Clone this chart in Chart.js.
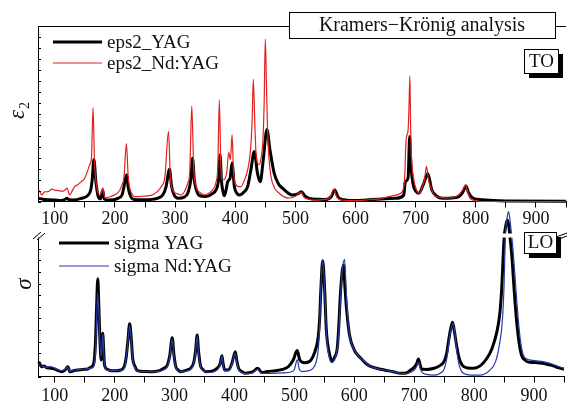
<!DOCTYPE html>
<html>
<head>
<meta charset="utf-8">
<script src="https://cdn.jsdelivr.net/npm/chart.js@4.4.0/dist/chart.umd.min.js"></script>
<style>
    html, body { margin: 0; padding: 0; background: #fff; }
    #wrap { position: relative; width: 567px; height: 404px; overflow: hidden; }
    #top { position: absolute; left: 0; top: 0; }
    #bottom { position: absolute; left: 0; top: 200px; }
</style>
</head>
<body>
<div id="wrap">
    <canvas id="top" width="567" height="228" style="width:567px;height:228px"></canvas>
    <canvas id="bottom" width="567" height="204" style="width:567px;height:204px"></canvas>
</div>
<script>
// wavenumber (cm-1), value
const eps2Yag = [[73,1.8],[80,1.3],[90,1.0],[100,0.8],[111,0.6],[117,1.2],[120,1.8],[124,1.0],[130,0.9],[144,1.8],
    [155,3.5],[160,7],[162,12],[165,24],[168,12],[172,3],[176,1.5],[179.6,6.6],[182,1.5],[190,0.8],
    [205,1.8],[212,4],[215,8.5],[219.4,15.2],[222,8],[226,3],[232,1.2],[250,1],[270,1.8],[280,4],
    [285,8.5],[290.7,18.4],[294,9],[298,4],[305,1.8],[315,2.5],[321,4.7],[326,12],[329,24.7],[332,12],
    [335,7],[340,3.5],[350,2.8],[362,4.5],[368,6.6],[372,12],[374.8,26.6],[377,12],[380,5],[382,3.3],
    [385,7],[387.4,11.3],[391.4,13.3],[394.7,21.9],[398.5,8.5],[402,5],[407,3.7],[415,5.5],[420.6,8.5],[426,18],
    [431.7,28.5],[437,16],[441.6,11.3],[446.6,23.8],[452.7,41],[457.7,29.5],[464.8,16],[472,10],[478.6,7.6],[495,3.7],
    [505,4.5],[510,5.6],[516,3],[523,1.8],[540,1.3],[551,1.2],[560,3],[565.5,6.6],[571,2.5],[580,1],
    [600,0.5],[622,1],[666,1.8],[680,3.5],[683,11.3],[687.5,13.7],[690,37],[692,21.9],[695.4,10.4],[700,6],
    [705.3,4.7],[713.6,10.4],[720,16],[727,6.6],[735,3],[745,1.8],[760,2],[771.6,2.8],[778,5],[783.7,8.9],
    [788,5],[795,2],[810,1],[850,0.3],[950,0.2]];

const eps2Nd = [[73,6.6],[76,5],[78,3.7],[83,5.5],[89,5.6],[95,7],[100,6.5],[106,6.2],[112,5.8],[117,6.5],
    [120,7.6],[125,3.7],[128,5.5],[133,8.5],[138,9.5],[144,11.3],[150,13.5],[155,18],[158,21],[161,25.7],
    [163.5,53.4],[166,22],[169,10],[172,4.9],[175,3.5],[178,6],[180,7.7],[183,2],[194,3],[205,5],
    [210.6,8.5],[215,14],[219,33],[222,14],[224,8.5],[228,4.5],[232.7,2.8],[245,3],[260,3.5],[270,5.5],
    [277,8.5],[283,14],[289,40],[292,14],[296,6.6],[303,4.5],[310,3.7],[316,6],[321,10.4],[324.5,18],
    [327.7,54.3],[331,18],[335,8.5],[342,5],[349,3.7],[355,4.5],[362.5,6.6],[368,11],[371,20],[373.6,57.8],
    [376,20],[378,12.3],[382,12.5],[386,17],[389,28],[392,23.8],[394.7,38],[397,18],[400,10.4],[405,8.5],
    [409.6,8.5],[415,12],[420.6,18],[425,28],[428,45],[430,69.6],[432.5,45],[434.5,27.6],[437,22],[440,21],
    [443,25],[446,35],[448,55],[450,92.6],[452,65],[453.7,41],[456,25],[459.4,14.2],[465,8],[473,4.7],
    [482,2.5],[490,2],[500,3],[506,4.7],[509,5.3],[514,2.5],[520,1.5],[528,0.8],[550,1.2],[558,2.5],
    [564,7],[569,2.5],[578,0.8],[600,0.5],[622,1],[640,1.5],[655.6,2.8],[665,3.5],[675,4.7],[680,8],
    [682,16],[684,35],[687.5,41],[689,55],[690.4,71.5],[691.5,45],[693,25.7],[697,12.3],[701,7],[705.3,4.7],
    [710,7],[715,13],[718,20],[721,13],[724.7,8.5],[733,3],[755,2],[768,3],[774,4.7],[779,7],
    [782.7,9.5],[786,6],[791,1.5],[800,0.5],[810,0],[950,0]];

const sigmaYag = [[73,10.5],[75,9],[78,6.9],[82,7.5],[86,6.3],[90,6],[97,5.7],[104,4.5],[111,3.4],[117,4.5],
    [122,6.9],[125,3.4],[131,4],[138.6,4.6],[147,5],[155,5.3],[160,6.5],[165,9.3],[168,25],[169.5,45],
    [171.8,69],[173.5,50],[175,30],[177.4,11.7],[179,20],[180,30.5],[181.5,20],[183,8.1],[188,5],[194,4.1],
    [200,4],[210.6,4.6],[216,7],[219,12.9],[222,25],[225,37.3],[228,25],[230,12.9],[234,7],[238,4.1],
    [250,3.5],[260,3.4],[275,4.2],[283,6],[288,8.1],[292,15],[296,27.4],[299,15],[302,6.9],[306,4.5],
    [310,3.4],[320,4.5],[326.7,5.8],[332,10],[335,18],[337.7,29.3],[340,18],[343,8],[347,5],[351.6,3.4],
    [360,3.5],[370.8,5.8],[376,9],[379,14.7],[381,9],[383.6,4.6],[390,4.6],[395.7,9.3],[401.3,17.5],[404,11],
    [406.8,5.8],[412,3.5],[418,2.3],[430,3.2],[438.8,5.8],[445.4,2.8],[455,3.5],[467.7,4.1],[480,5],[489.7,6.9],
    [498,11.7],[504.6,18.3],[509,11.7],[517,9.8],[525,10.5],[531,14],[536,20],[539.5,27],[542,40],[544,60],
    [547.3,81.8],[550.6,60],[553,35],[555,24.6],[559,15],[563,11],[567,13.5],[571.5,20],[574,35],[577,60],
    [582,78.8],[584.5,62],[587,48],[592,29.3],[600,18.7],[605,15.5],[611,12.9],[620,9],[628,6.9],[640,5.5],
    [650,4.6],[665,3.4],[677.6,2.3],[687,2.5],[694,4.6],[700,6.5],[704,9],[707,12.4],[710,8],[712,5.3],
    [720,5],[733,5.8],[742,7.5],[749.6,10.5],[754,16],[758,27],[761,34],[764,38.3],[767,32],[770.6,22.3],
    [775,13],[780,8.1],[790,6],[799,5.8],[810,7.5],[821.4,12.9],[830,20],[838,31.7],[843,45],[846,62.3],
    [850,97.7],[853,107],[855.7,110.6],[858,106],[860,98],[862.8,85.9],[867,60],[871,38.7],[875,24],[879,15.2],
    [885,11.5],[893,10],[905,9.8],[915,9.3],[925,8.3],[932,7.5],[940,6.3],[948.6,5.3],[950,5.2]];

const sigmaNd = [[73,9],[76,7.5],[80,7],[86,6.5],[92,7],[97,6.5],[104,5],[111,4.2],[117,5],[122,6.5],
    [125,3.8],[131,4.5],[140,4.8],[150,5.3],[160,5.8],[165,7],[168,16],[169.5,35],[171.8,58.8],[173.5,45],
    [175,28],[177.4,14],[179,22],[180,30],[181.5,20],[183,8],[188,4.5],[194,4],[200,4.2],[210,4.3],
    [216,6],[219,12],[222,24],[225,36],[228,24],[230,12],[234,6],[238,3.8],[250,3.5],[260,3.4],
    [275,3.8],[283,5],[288,7],[292,14],[296,26.5],[299,14],[302,6.5],[306,4],[310,3.2],[320,3.8],
    [326.7,5],[332,9],[335,17],[337.7,28.5],[340,17],[343,7.5],[347,4.5],[351.6,3.2],[360,3],[370.8,4.5],
    [376,8],[379,14],[381,8.5],[383.6,4],[390,4.3],[395.7,8.5],[401.3,16.5],[404,10],[406.8,5],[412,2.8],
    [418,2],[430,2.5],[438.8,5],[445,2.2],[460,2.2],[480,2.5],[495,3.4],[500,5],[504.6,11.7],[508,5.5],
    [512,3.5],[520,3.8],[531,5.8],[536,10],[540,20],[542,35],[544,60],[547.3,82],[550.6,60],[553,35],
    [555,22],[559,12],[563,9.8],[567,12],[571.5,19],[574,30],[577,55],[580,75],[583.7,82.8],[586,65],
    [588,48],[592,30],[600,18.5],[605,15.5],[611,12.9],[620,9.5],[628,6.9],[640,5.5],[650,4.6],[665,3.4],
    [677.6,2.3],[687,2],[694,3],[700,4.5],[704,7],[707,10],[710,6],[712,3.5],[720,1.5],[733,1],
    [742,2],[749.6,5],[754,12],[758,24],[761,33],[765,37.6],[768,30],[771,18],[775,8],[782,2.3],
    [795,1],[810,1],[825,4],[835.8,10.5],[842,22],[847,38.7],[850,65],[852,97.7],[855,112],[857.4,116.5],
    [860,110],[863,98],[865.6,85.9],[870,60],[874,38.7],[878,23],[882,15.2],[887,12.5],[893,11.7],[905,11],
    [915,10.5],[925,9.5],[935,8],[948,6],[950,5.8]];

const xTicks = [100, 150, 200, 250, 300, 350, 400, 450, 500, 550, 600, 650, 700, 750, 800, 850, 900, 950];
const xTickLabels = ['100', '', '200', '', '300', '', '400', '', '500', '', '600', '', '700', '', '800', '', '900', ''];
const topLabels = ['eps2_YAG', 'eps2_Nd:YAG'];
const bottomLabels = ['sigma YAG', 'sigma Nd:YAG'];
const titleText = 'Kramers\u2212Kr\u00f6nig analysis';

const FONT = "'Liberation Serif', 'Times New Roman', serif";
const INK = '#111';

function toPoints(pairs) {
    return pairs.map(p => ({x: p[0], y: p[1]}));
}

// extra drawing: frame, legend, boxed labels, axis break
const decor = {
    id: 'decor',
    afterDraw(chart, args, o) {
        const ctx = chart.ctx;
        const a = chart.chartArea;
        ctx.save();

        if (o.breakMarks) {
            ctx.fillStyle = '#fff';
            ctx.fillRect(28, a.top - 1.5, chart.width - 28, 4);
            ctx.strokeStyle = '#000';
            ctx.lineWidth = 1;
            [[33, 39, 41, 32], [37, 40, 45, 33], [556, 37, 567, 33], [556, 40, 567, 36]].forEach(l => {
                ctx.beginPath(); ctx.moveTo(l[0], l[1]); ctx.lineTo(l[2], l[3]); ctx.stroke();
            });
        }

        // small inward ticks on the left axis
        const ys = chart.scales.y;
        ctx.strokeStyle = '#000';
        ctx.lineWidth = 1;
        ys.ticks.forEach(t => {
            const py = Math.round(ys.getPixelForValue(t.value)) + 0.5;
            if (o.breakMarks && py < a.top + 4) return;
            ctx.beginPath(); ctx.moveTo(a.left, py); ctx.lineTo(a.left + 3, py); ctx.stroke();
        });

        if (o.frameTop) {
            ctx.beginPath();
            ctx.moveTo(a.left, a.top + 0.5); ctx.lineTo(a.right, a.top + 0.5);
            ctx.stroke();
        }

        // legend
        const lg = o.legend;
        chart.data.datasets.forEach((ds, i) => {
            const y = lg.y[i];
            ctx.strokeStyle = ds.borderColor;
            ctx.lineWidth = ds.borderWidth;
            ctx.beginPath(); ctx.moveTo(lg.x0, y); ctx.lineTo(lg.x1, y); ctx.stroke();
            ctx.fillStyle = INK;
            ctx.font = '19px ' + FONT;
            ctx.textBaseline = 'middle';
            ctx.textAlign = 'left';
            ctx.fillText(ds.label, lg.tx, y + 1);
        });

        // axis label
        const al = o.axisLabel;
        ctx.translate(al.x, al.y);
        ctx.rotate(-Math.PI / 2);
        ctx.fillStyle = INK;
        ctx.textBaseline = 'middle';
        ctx.textAlign = 'left';
        ctx.font = 'italic 23px ' + FONT;
        const w = ctx.measureText(al.text).width;
        const sw = al.sub ? 9 : 0;
        ctx.fillText(al.text, -(w + sw) / 2, 0);
        if (al.sub) {
            ctx.font = '14px ' + FONT;
            ctx.fillText(al.sub, -(w + sw) / 2 + w + 1, 7);
        }
        ctx.setTransform(1, 0, 0, 1, 0, 0);

        // title box
        if (o.title) {
            const t = o.title;
            ctx.fillStyle = '#fff';
            ctx.fillRect(t.x0, t.y0, t.x1 - t.x0, t.y1 - t.y0);
            ctx.strokeStyle = '#000';
            ctx.lineWidth = 1;
            ctx.strokeRect(t.x0 + 0.5, t.y0 + 0.5, t.x1 - t.x0, t.y1 - t.y0);
            ctx.fillStyle = INK;
            ctx.font = '20px ' + FONT;
            ctx.textAlign = 'center';
            ctx.textBaseline = 'middle';
            ctx.fillText(t.text, (t.x0 + t.x1) / 2, (t.y0 + t.y1) / 2 + 1);
        }

        // boxed tag with shadow
        const g = o.tag;
        ctx.fillStyle = '#000';
        ctx.fillRect(g.x + 5, g.y + 5, g.w, g.h);
        ctx.fillStyle = '#fff';
        ctx.fillRect(g.x, g.y, g.w, g.h);
        ctx.strokeStyle = '#000';
        ctx.lineWidth = 1;
        ctx.strokeRect(g.x + 0.5, g.y + 0.5, g.w, g.h);
        ctx.fillStyle = INK;
        ctx.font = '19px ' + FONT;
        ctx.textAlign = 'center';
        ctx.textBaseline = 'middle';
        ctx.fillText(g.text, g.x + g.w / 2 + 0.5, g.y + g.h / 2 + 1);

        ctx.restore();
    }
};

function xScale(labelPad) {
    return {
        type: 'linear',
        min: 72,
        max: 950,
        afterBuildTicks: s => { s.ticks = xTicks.map(v => ({value: v})); },
        ticks: {
            autoSkip: false,
            maxRotation: 0,
            padding: labelPad,
            color: INK,
            font: {family: FONT, size: 18},
            callback: (v, i) => xTickLabels[i]
        },
        grid: {drawOnChartArea: false, color: '#000', tickLength: 6, lineWidth: 1},
        border: {display: true, color: '#000', width: 1}
    };
}

function yScale(max, step) {
    return {
        min: 0,
        max: max,
        ticks: {display: false, stepSize: step},
        grid: {display: false},
        border: {display: true, color: '#000', width: 1},
        afterFit: s => { s.width = 38; }
    };
}

function panel(canvasId, sets, labels, colors, opts) {
    let x = xScale(opts.labelPad);
    x.afterFit = s => { s.height = opts.xHeight; };
    return new Chart(document.getElementById(canvasId), {
        type: 'line',
        data: {
            datasets: [{
                label: labels[0],
                data: toPoints(sets[0]),
                borderColor: '#000',
                borderWidth: 3,
                pointRadius: 0,
                cubicInterpolationMode: 'monotone',
                clip: false,
                order: 2
            }, {
                label: labels[1],
                data: toPoints(sets[1]),
                borderColor: colors,
                borderWidth: 1.2,
                pointRadius: 0,
                cubicInterpolationMode: 'monotone',
                clip: false,
                order: 1
            }]
        },
        options: {
            responsive: false,
            animation: false,
            events: [],
            layout: {padding: {top: opts.padTop, left: 0, right: 0, bottom: 0}},
            scales: {x: x, y: yScale(100, opts.step)},
            plugins: {
                legend: {display: false},
                tooltip: {enabled: false},
                decor: opts.decor
            }
        },
        plugins: [decor]
    });
}

panel('top', [eps2Yag, eps2Nd], topLabels, 'rgb(226,32,30)', {
    padTop: 26, xHeight: 26.5, labelPad: 1, step: 6.25,
    decor: {
        frameTop: true,
        legend: {x0: 53, x1: 102, tx: 107, y: [42, 63]},
        axisLabel: {text: '\u03b5', sub: '2', x: 18, y: 110},
        title: {text: titleText, x0: 289, x1: 555, y0: 12, y1: 38},
        tag: {text: 'TO', x: 524, y: 49, w: 34, h: 24}
    }
});

panel('bottom', [sigmaYag, sigmaNd], bottomLabels, 'rgb(40,58,165)', {
    padTop: 35, xHeight: 27.5, labelPad: 3, step: 8.2,
    decor: {
        breakMarks: true,
        legend: {x0: 59, x1: 109, tx: 114, y: [43, 66]},
        axisLabel: {text: '\u03c3', x: 25, y: 84},
        tag: {text: 'LO', x: 524, y: 32, w: 32, h: 21}
    }
});
</script>
</body>
</html>
